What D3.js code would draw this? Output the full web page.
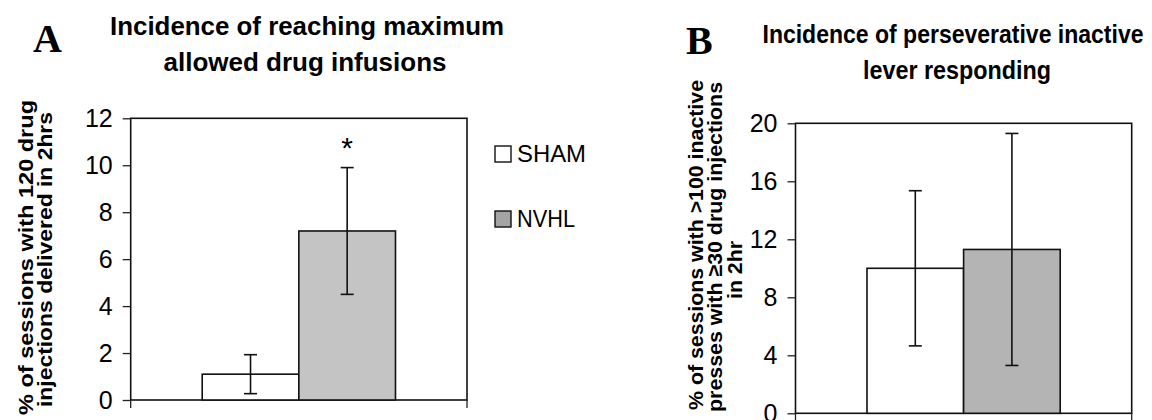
<!DOCTYPE html>
<html>
<head>
<meta charset="utf-8">
<script src="https://cdn.jsdelivr.net/npm/d3@7"></script>
<style>
  body { margin: 0; background: #fff; }
  text { font-family: "Liberation Sans", Arial, sans-serif; fill: #000; }
</style>
</head>
<body>
<svg id="chart" width="1152" height="420"></svg>
<script>
// data
const groups = ["SHAM", "NVHL"];
const maxInfMean = [1.1, 7.2];
const maxInfErr = [0.83, 2.7];
const persMean = [10.0, 11.3];
const persErr = [5.35, 8.0];
const ticksA = [0, 2, 4, 6, 8, 10, 12];
const ticksB = [0, 4, 8, 12, 16, 20];
const sigMarks = ["", "*"];

const svg = d3.select("#chart");

function draw_panel(opt){
  const x = d3.scaleBand().domain(groups)
    .range([opt.left, opt.right]).paddingInner(0).paddingOuter(0.74);
  const y = d3.scaleLinear().domain(opt.domain).range([opt.bottom, opt.top]);
  const g = svg.append("g");

  // plot frame
  g.append("rect")
    .attr("x", opt.left).attr("y", opt.top)
    .attr("width", opt.right - opt.left).attr("height", opt.bottom - opt.top)
    .attr("fill", "none").attr("stroke", "#111").attr("stroke-width", 1.6);

  // y axis
  const yAxis = g.append("g")
    .attr("transform", "translate(" + opt.left + ",0)")
    .call(d3.axisLeft(y).tickValues(opt.ticks).tickSize(8).tickPadding(10).tickSizeOuter(0));
  yAxis.select(".domain").remove();
  yAxis.attr("font-size", null).attr("font-family", null);
  yAxis.selectAll("line").attr("stroke", "#222").attr("stroke-width", 1.3);
  yAxis.selectAll("text")
    .style("font-size", "25px")
    .style("font-family", "'Liberation Sans', Arial, sans-serif")
    .attr("fill", "#000");

  // category edge ticks under the x axis
  g.selectAll(".xtick")
    .data(x.range())
    .join("line")
      .attr("x1", d => d).attr("x2", d => d)
      .attr("y1", opt.bottom).attr("y2", opt.bottom + 8)
      .attr("stroke", "#222").attr("stroke-width", 1.3);

  // bars
  g.selectAll(".bar")
    .data(groups)
    .join("rect")
      .attr("x", d => x(d)).attr("width", x.bandwidth())
      .attr("y", (d, i) => y(opt.mean[i]))
      .attr("height", (d, i) => y(0) - y(opt.mean[i]))
      .attr("fill", (d, i) => opt.fills[i])
      .attr("stroke", "#111").attr("stroke-width", 1.6);

  // error bars
  const cap = 6.5;
  const eb = g.selectAll(".err").data(groups).join("g");
  eb.append("line")
    .attr("x1", d => x(d) + x.bandwidth() / 2).attr("x2", d => x(d) + x.bandwidth() / 2)
    .attr("y1", (d, i) => y(opt.mean[i] - opt.err[i]))
    .attr("y2", (d, i) => y(opt.mean[i] + opt.err[i]));
  eb.append("line")
    .attr("x1", d => x(d) + x.bandwidth() / 2 - cap).attr("x2", d => x(d) + x.bandwidth() / 2 + cap)
    .attr("y1", (d, i) => y(opt.mean[i] + opt.err[i]))
    .attr("y2", (d, i) => y(opt.mean[i] + opt.err[i]));
  eb.append("line")
    .attr("x1", d => x(d) + x.bandwidth() / 2 - cap).attr("x2", d => x(d) + x.bandwidth() / 2 + cap)
    .attr("y1", (d, i) => y(opt.mean[i] - opt.err[i]))
    .attr("y2", (d, i) => y(opt.mean[i] - opt.err[i]));
  eb.selectAll("line").attr("stroke", "#111").attr("stroke-width", 1.6);

  if (opt.marks){
    g.selectAll(".sig")
      .data(groups)
      .join("text")
        .attr("x", d => x(d) + x.bandwidth() / 2)
        .attr("y", (d, i) => y(opt.mean[i] + opt.err[i]) - 10)
        .attr("text-anchor", "middle")
        .attr("font-size", 30)
        .text((d, i) => opt.marks[i]);
  }

  // panel letter
  svg.append("text")
    .attr("x", opt.letterX).attr("y", opt.letterY)
    .attr("font-weight", "bold").attr("font-size", 40)
    .style("font-family", "'Liberation Serif', 'Times New Roman', serif")
    .text(opt.letter);

  // title lines
  opt.title.forEach(function(t){
    svg.append("text")
      .attr("x", t.cx).attr("y", t.y)
      .attr("text-anchor", "middle")
      .attr("font-weight", "bold").attr("font-size", 26)
      .attr("textLength", t.len).attr("lengthAdjust", "spacingAndGlyphs")
      .text(t.text);
  });

  // rotated y label lines
  opt.ylabel.forEach(function(t){
    svg.append("text")
      .attr("transform", "translate(" + t.x + "," + t.cy + ") rotate(-90)")
      .attr("text-anchor", "middle")
      .attr("font-weight", "bold").attr("font-size", 21)
      .attr("textLength", t.len).attr("lengthAdjust", "spacingAndGlyphs")
      .text(t.text);
  });
}

draw_panel({
  left: 130.7, right: 467, top: 118.3, bottom: 400,
  domain: [0, 12], ticks: ticksA,
  mean: maxInfMean, err: maxInfErr, marks: sigMarks,
  fills: ["#ffffff", "#c4c4c4"],
  letter: "A", letterX: 33, letterY: 52,
  title: [
    { text: "Incidence of reaching maximum", cx: 307, y: 35, len: 394 },
    { text: "allowed drug infusions", cx: 305, y: 71, len: 283 }
  ],
  ylabel: [
    { text: "% of sessions with 120 drug", x: 32.5, cy: 257.5, len: 315 },
    { text: "injections delivered in 2hrs", x: 51.5, cy: 259.5, len: 295 }
  ]
});

draw_panel({
  left: 795.5, right: 1131.7, top: 123.3, bottom: 413.3,
  domain: [0, 20], ticks: ticksB,
  mean: persMean, err: persErr, marks: null,
  fills: ["#ffffff", "#b4b4b4"],
  letter: "B", letterX: 686, letterY: 53.5,
  title: [
    { text: "Incidence of perseverative inactive", cx: 953, y: 42.5, len: 381 },
    { text: "lever responding", cx: 957, y: 79, len: 188 }
  ],
  ylabel: [
    { text: "% of sessions with >100 inactive", x: 702.5, cy: 245, len: 330 },
    { text: "presses with \u226530 drug injections", x: 722, cy: 247, len: 330 },
    { text: "in 2hr", x: 741.5, cy: 270, len: 58 }
  ]
});

// legend
const legendFill = ["#ffffff", "#a4a4a4"];
const leg = svg.append("g").attr("transform", "translate(495,146)");
const items = leg.selectAll("g").data(groups).join("g")
  .attr("transform", (d, i) => "translate(0," + i * 65 + ")");
items.append("rect")
  .attr("width", 16).attr("height", 16)
  .attr("fill", (d, i) => legendFill[i])
  .attr("stroke", "#111").attr("stroke-width", 1.4);
items.append("text")
  .attr("x", 22).attr("y", 16)
  .attr("font-size", 24)
  .attr("textLength", d => d === "SHAM" ? 69 : 58).attr("lengthAdjust", "spacingAndGlyphs")
  .text(d => d);
</script>
</body>
</html>
